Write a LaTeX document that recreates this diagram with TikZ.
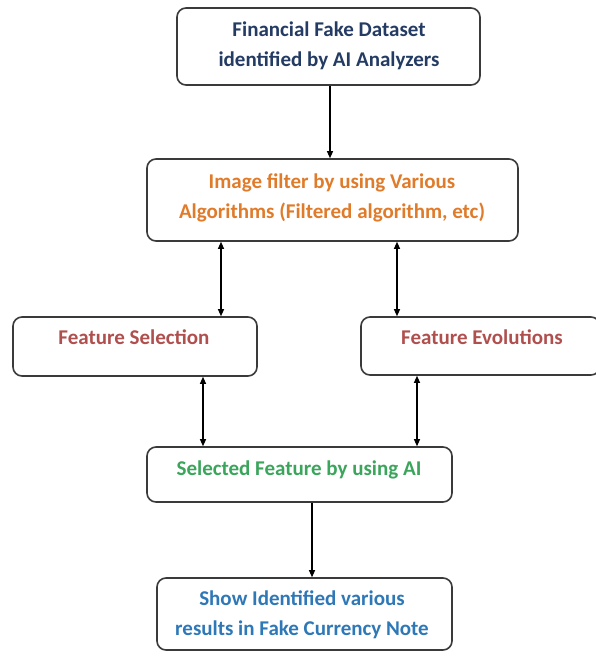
\documentclass[tikz,border=0pt]{standalone}
\usepackage{fontspec}
\setmainfont{Carlito}
\usetikzlibrary{arrows.meta}
\definecolor{navytxt}{HTML}{243B63}
\definecolor{orangetxt}{HTML}{E07B2A}
\definecolor{redtxt}{HTML}{B0504E}
\definecolor{greentxt}{HTML}{3BA55C}
\definecolor{bluetxt}{HTML}{2E78B8}
\definecolor{edge}{HTML}{3A3A3A}
\tikzset{
  box/.style={draw=edge, line width=1.6pt, rounded corners=9pt, fill=white, inner sep=0pt},
  lbl/.style={font=\fontsize{21}{30}\selectfont\bfseries, align=center, inner sep=0pt},
  arr/.style={line width=1.1pt, -{Triangle[length=7pt,width=6pt]}},
  biarr/.style={line width=1.1pt, {Triangle[length=7pt,width=6pt]}-{Triangle[length=7pt,width=6pt]}}
}
\begin{document}
\begin{tikzpicture}[x=1pt,y=-1pt]
\useasboundingbox[fill=white] (0,0) rectangle (595,656);

% boxes
\node[box, minimum width=303pt, minimum height=77pt] (b1) at (328.5,46.5) {};
\node[box, minimum width=371pt, minimum height=82pt] (b2) at (332.5,200) {};
\node[box, minimum width=244pt, minimum height=59pt] (b3) at (135,346.5) {};
\node[box, minimum width=239pt, minimum height=58pt] (b4) at (480.5,346) {};
\node[box, minimum width=305pt, minimum height=55pt] (b5) at (299.5,474.5) {};
\node[box, minimum width=295pt, minimum height=72pt] (b6) at (304.5,614) {};

% labels
\node[lbl, text=navytxt] (t1) at (329,46) {Financial Fake Dataset\\identified by AI Analyzers};
\node[lbl, text=orangetxt] (t2) at (332,198) {Image filter by using Various\\Algorithms (Filtered algorithm, etc)};
\node[lbl, text=redtxt] (t3) at (134,337) {Feature Selection};
\node[lbl, text=redtxt] (t4) at (482,337) {Feature Evolutions};
\node[lbl, text=greentxt] (t5) at (299,470) {Selected Feature by using AI};
\node[lbl, text=bluetxt] (t6) at (302,615) {Show Identified various\\results in Fake Currency Note};

% connectors
\draw[arr] (b1.south -| 330,0) -- (b2.north -| 330,0);
\draw[biarr] (b2.south -| 221,0) -- (b3.north -| 221,0);
\draw[biarr] (b2.south -| 397,0) -- (b4.north -| 397,0);
\draw[biarr] (b3.south -| 203,0) -- (b5.north -| 203,0);
\draw[biarr] (b4.south -| 417,0) -- (b5.north -| 417,0);
\draw[arr] (b5.south -| 312,0) -- (b6.north -| 312,0);
\end{tikzpicture}
\end{document}
